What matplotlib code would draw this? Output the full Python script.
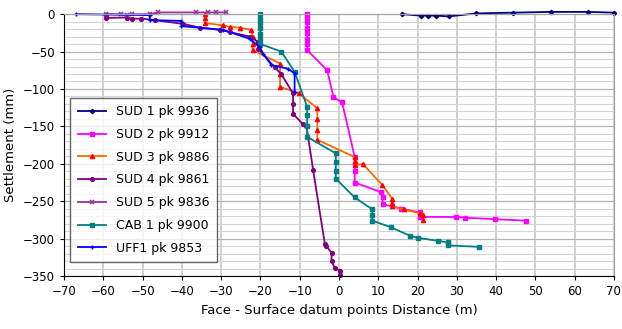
import numpy as np
import matplotlib.pyplot as plt
from matplotlib.ticker import MultipleLocator

# distance (m) / settlement (mm)
sud1_x = [16, 21, 22.6, 24.6, 28, 35, 44.4, 53.9, 63.5, 70]
sud1_y = [0, -2, -2, -2, -3, 1, 2, 3, 3, 2]

sud2_x = [-8.1, -8.1, -8.1, -8.1, -8.1, -8.1, -8.1, -8.1, -3, -1.4, 0.8, 4, 4, 4, 4,
          10.8, 11.1, 11.1, 15.9, 20.5, 20.5, 29.9, 32, 39.6, 47.5]
sud2_y = [0, -5, -10, -18, -25, -33, -40, -48, -75, -111, -118, -191, -200, -210, -225,
          -238, -245, -254, -260, -265, -271, -271, -272, -274, -276]

sud3_x = [-34, -34, -34, -29.5, -27.8, -25.3, -22.3, -22, -22, -22, -15, -15, -15,
          -10.2, -5.5, -5.5, -5.5, -5.5, 4, 4, 4, 6, 11, 13.6, 13.6, 13.6, 16.5,
          20.5, 21.5, 21.5]
sud3_y = [0, -5, -12, -15, -17, -18, -21, -30, -40, -48, -66, -80, -97,
          -106, -126, -140, -155, -168, -191, -196, -202, -200, -228, -247, -252, -257, -261,
          -266, -268, -275]

sud4_x = [-59.2, -59.2, -54.1, -52.8, -50.3, -46.9, -39.7, -35.4, -30.4, -27.8, -22.7,
          -20.6, -20.6, -16.4, -14.7, -11.7, -11.7, -11.7, -9.2, -8.3, -6.6, -3.6, -3.2,
          -1.9, -1.9, -1.1, 0.2, 0.2]
sud4_y = [-1, -5, -4.5, -6, -6, -8, -13, -18, -21, -24, -30,
          -37, -46, -71, -80, -106, -120, -133, -147, -149, -208, -307, -310,
          -319, -330, -339, -343, -348]

sud5_x = [-59.2, -55.4, -54.1, -52.8, -48.2, -46, -36.3, -33.4, -31.2, -28.7]
sud5_y = [0, 0, -1, 0, 0, 2.3, 2.3, 2.3, 2.3, 2.3]

cab1_x = [-20, -20, -20, -20, -20, -20, -20, -14.7, -11.3, -8.1, -8.1, -8.1, -8.1,
          -0.8, -0.8, -0.8, -0.8, 4, 8.5, 8.5, 8.5, 13.3, 18, 20.1, 25.2, 27.7, 27.7, 35.6]
cab1_y = [0, -6, -12, -18, -26, -33, -40, -50, -77, -124, -135, -150, -164,
          -186, -198, -210, -220, -245, -261, -268, -276, -285, -296, -299, -303, -305, -309, -311]

uff1_x = [-67, -48.2, -48.2, -40.1, -40.1, -29.5, -22.7, -20.2, -19.3, -17.2, -13, -11.3, -11.3]
uff1_y = [0, -1.3, -8, -9, -16, -21, -33, -44, -53, -68, -73, -79, -104]

fig = plt.figure(figsize=(6.22, 3.29), dpi=100)
ax = fig.add_axes([0.103, 0.161, 0.884, 0.796])

lw = 1.3
kw = dict(lw=lw, clip_on=False)
ax.plot(sud1_x, sud1_y, color='#000080', marker='D', ms=2.2, label='SUD 1 pk 9936', **kw)
ax.plot(sud2_x, sud2_y, color='#FF00FF', marker='s', ms=3, label='SUD 2 pk 9912', **kw)
ax.plot(sud3_x, sud3_y, color='#FF6600', marker='^', ms=3, mfc='#FF0000', mec='#FF0000',
        label='SUD 3 pk 9886', **kw)
ax.plot(sud4_x, sud4_y, color='#800080', marker='o', ms=2.7, label='SUD 4 pk 9861', **kw)
ax.plot(sud5_x, sud5_y, color='#993399', marker='x', ms=3, mew=1.1, label='SUD 5 pk 9836', **kw)
ax.plot(cab1_x, cab1_y, color='#008080', marker='s', ms=3, label='CAB 1 pk 9900', **kw)
ax.plot(uff1_x, uff1_y, color='#0000FF', marker='+', ms=3, label='UFF1 pk 9853', **kw)

ax.set_xlim(-70, 70)
ax.set_ylim(-350, 0)
ax.xaxis.set_major_locator(MultipleLocator(10))
ax.yaxis.set_major_locator(MultipleLocator(50))
ax.yaxis.set_minor_locator(MultipleLocator(10))
ax.grid(True, which='major', axis='x', color='#c8c8c8', lw=1.2)
ax.grid(True, which='major', axis='y', color='#b4b4b4', lw=0.9)
ax.grid(True, which='minor', axis='y', color='#d4d4d4', lw=0.8)
ax.set_axisbelow(True)
ax.tick_params(which='minor', length=0)
ax.tick_params(which='major', labelsize=8.5, length=3, direction='out')
for s in ['top', 'right']:
    ax.spines[s].set_color('#a0a0a0')

ax.set_xlabel('Face - Surface datum points Distance (m)', fontsize=9.5)
ax.set_ylabel('Settlement (mm)', fontsize=9.5)

leg = ax.legend(loc='lower left', bbox_to_anchor=(0.011, 0.053), borderaxespad=0,
                fontsize=9, frameon=True, fancybox=False, edgecolor='#404040',
                handlelength=2.3, labelspacing=0.78, borderpad=0.6)
leg.get_frame().set_linewidth(1.0)

fig.savefig('out.png', dpi=100)
